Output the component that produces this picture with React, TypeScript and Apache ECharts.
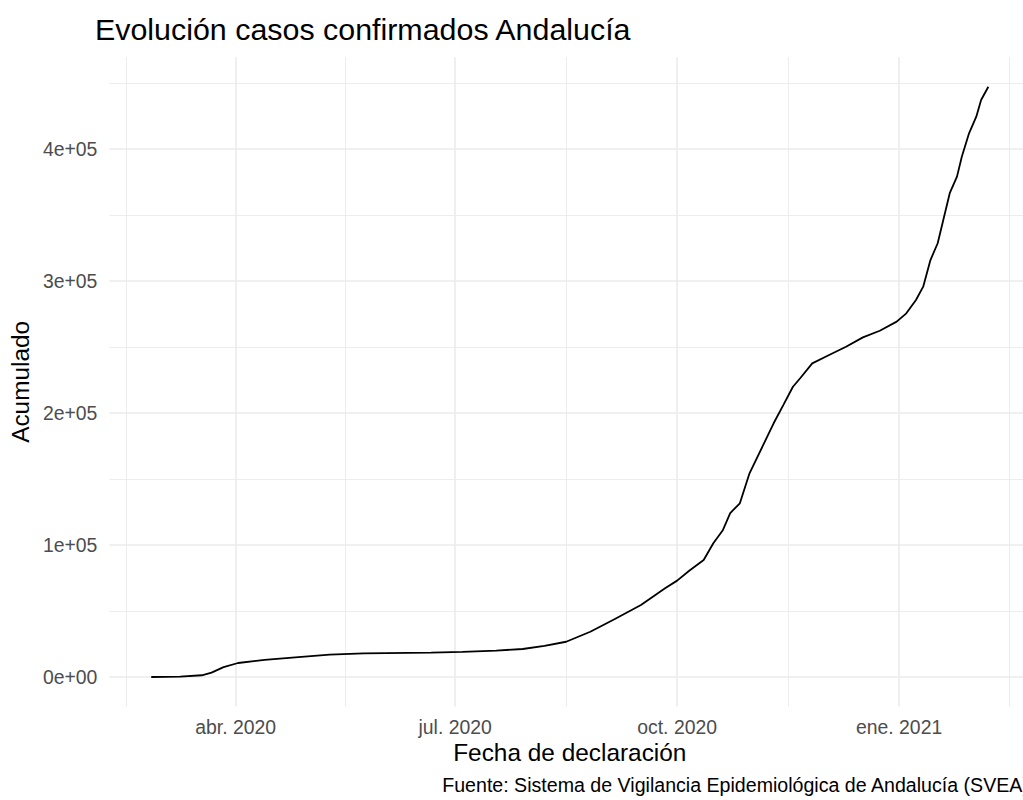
import React, { useEffect, useRef } from "react";
import * as echarts from "echarts";

// ---- data ----
const dates = [
  "2020-02-26", "2020-03-09", "2020-03-18", "2020-03-22", "2020-03-27", "2020-04-02",
  "2020-04-13", "2020-04-27", "2020-05-10", "2020-05-24", "2020-06-21", "2020-07-04",
  "2020-07-18", "2020-07-29", "2020-08-07", "2020-08-16", "2020-08-26", "2020-09-05",
  "2020-09-16", "2020-09-26", "2020-10-01", "2020-10-06", "2020-10-12", "2020-10-16",
  "2020-10-20", "2020-10-23", "2020-10-27", "2020-10-31", "2020-11-06", "2020-11-10",
  "2020-11-14", "2020-11-18", "2020-11-21", "2020-11-26", "2020-12-03", "2020-12-10",
  "2020-12-17", "2020-12-24", "2020-12-31", "2021-01-04", "2021-01-08", "2021-01-11",
  "2021-01-14", "2021-01-17", "2021-01-19", "2021-01-22", "2021-01-25", "2021-01-27",
  "2021-01-30", "2021-02-02", "2021-02-04", "2021-02-07",
];
const acumulado = [
  0, 200, 1300, 3300, 7500, 10600,
  12900, 15000, 16900, 17900, 18400, 19000,
  20000, 21200, 23500, 26700, 34300, 43700,
  54500, 67200, 73000, 80500, 88600, 101300,
  111400, 124200, 131600, 154300, 177000, 192200,
  206000, 219900, 226300, 237600, 243900, 250200,
  257300, 262300, 269200, 275500, 285600, 295700,
  315900, 328600, 343700, 366500, 379100, 394200,
  411900, 424500, 437100, 447200,
];

const xMajorTicks = ["2020-04-01", "2020-07-01", "2020-10-01", "2021-01-01"];
const xTickLabels = ["abr. 2020", "jul. 2020", "oct. 2020", "ene. 2021"];
const xMinorTicks = ["2020-02-15T12", "2020-05-16T12", "2020-08-16T00", "2020-11-16T00", "2021-02-15T12"];

const yMajorTicks = [0, 100000, 200000, 300000, 400000];
const yTickLabels = ["0e+00", "1e+05", "2e+05", "3e+05", "4e+05"];
const yMinorTicks = [50000, 150000, 250000, 350000, 450000];

const titleText = "Evolución casos confirmados Andalucía";
const xTitle = "Fecha de declaración";
const yTitle = "Acumulado";
const captionText = "Fuente: Sistema de Vigilancia Epidemiológica de Andalucía (SVEA)";

const FONT = "'Liberation Sans', Arial, Helvetica, sans-serif";

const toTs = (s: string) => {
  const [d, t] = s.split("T");
  const [y, m, dd] = d.split("-").map(Number);
  const h = t ? Number(t) : 0;
  return Date.UTC(y, m - 1, dd, h);
};

export default function App() {
  const ref = useRef<HTMLDivElement>(null);

  useEffect(() => {
    const chart = echarts.init(ref.current!, null, { renderer: "svg" });

    const xs = dates.map(toTs);
    const first = xs[0];
    const last = xs[xs.length - 1];
    const xPad = (last - first) * 0.05;
    const xMin = first - xPad;
    const xMax = last + xPad;
    const yDataMax = Math.max(...acumulado);
    const yPad = yDataMax * 0.05;
    const yMin = -yPad;
    const yMax = yDataMax + yPad;

    const majorTs = xMajorTicks.map(toTs);
    const minorTs = xMinorTicks.map(toTs);

    const majorStyle = { color: "#ebebeb", width: 1.6, type: "solid" as const };
    const minorStyle = { color: "#ebebeb", width: 0.9, type: "solid" as const };

    const gridLines: any[] = [
      ...minorTs.map((v) => ({ xAxis: v, lineStyle: minorStyle })),
      ...yMinorTicks.map((v) => ({ yAxis: v, lineStyle: minorStyle })),
      ...majorTs.map((v) => ({ xAxis: v, lineStyle: majorStyle })),
      ...yMajorTicks.map((v) => ({ yAxis: v, lineStyle: majorStyle })),
    ];

    const nearestIndex = (arr: number[], v: number) => {
      let best = 0;
      for (let i = 1; i < arr.length; i++) {
        if (Math.abs(arr[i] - v) < Math.abs(arr[best] - v)) best = i;
      }
      return best;
    };

    const option: any = {
      animation: false,
      backgroundColor: "#ffffff",
      title: {
        text: titleText,
        left: 95,
        top: 14,
        padding: 0,
        textStyle: { fontFamily: FONT, fontSize: 30.4, fontWeight: "normal", color: "#000000" },
      },
      grid: { left: 108.6, right: 0.8, top: 57.2, bottom: 93.5, containLabel: false },
      xAxis: {
        type: "value",
        min: xMin,
        max: xMax,
        scale: true,
        axisLine: { show: false },
        axisTick: { show: false },
        splitLine: { show: false },
        axisLabel: {
          customValues: majorTs,
          formatter: (v: number) => xTickLabels[nearestIndex(majorTs, v)],
          color: "#4d4d4d",
          fontFamily: FONT,
          fontSize: 19.4,
          margin: 10.5,
          hideOverlap: false,
        },
        name: xTitle,
        nameLocation: "middle",
        nameGap: 34,
        nameTextStyle: { fontFamily: FONT, fontSize: 24.4, color: "#000000" },
      },
      yAxis: {
        type: "value",
        min: yMin,
        max: yMax,
        axisLine: { show: false },
        axisTick: { show: false },
        splitLine: { show: false },
        axisLabel: {
          customValues: yMajorTicks,
          formatter: (v: number) => yTickLabels[nearestIndex(yMajorTicks, v)],
          color: "#4d4d4d",
          fontFamily: FONT,
          fontSize: 19.4,
          margin: 12,
        },
        name: yTitle,
        nameLocation: "middle",
        nameRotate: 90,
        nameGap: 73,
        nameTextStyle: { fontFamily: FONT, fontSize: 24.4, color: "#000000" },
      },
      series: [
        {
          type: "line",
          data: [],
          silent: true,
          z: 1,
          markLine: {
            silent: true,
            z: 1,
            symbol: ["none", "none"],
            label: { show: false },
            emphasis: { disabled: true },
            animation: false,
            data: gridLines,
          },
        },
        {
          type: "line",
          z: 3,
          data: xs.map((x, i) => [x, acumulado[i]]),
          showSymbol: false,
          symbol: "none",
          lineStyle: { color: "#000000", width: 1.8 },
          emphasis: { disabled: true },
          silent: true,
        },
      ],
      graphic: [
        {
          type: "text",
          right: 1,
          top: 775,
          silent: true,
          style: {
            text: captionText,
            fontFamily: FONT,
            fontSize: 19.6,
            fill: "#000000",
          },
        },
      ],
    };

    chart.setOption(option);
    return () => chart.dispose();
  }, []);

  return (
    <div
      style={{
        position: "absolute",
        left: 0,
        top: 0,
        width: 1023,
        height: 800,
        overflow: "hidden",
      }}
    >
      <div ref={ref} style={{ width: 1031, height: 800 }} />
    </div>
  );
}
